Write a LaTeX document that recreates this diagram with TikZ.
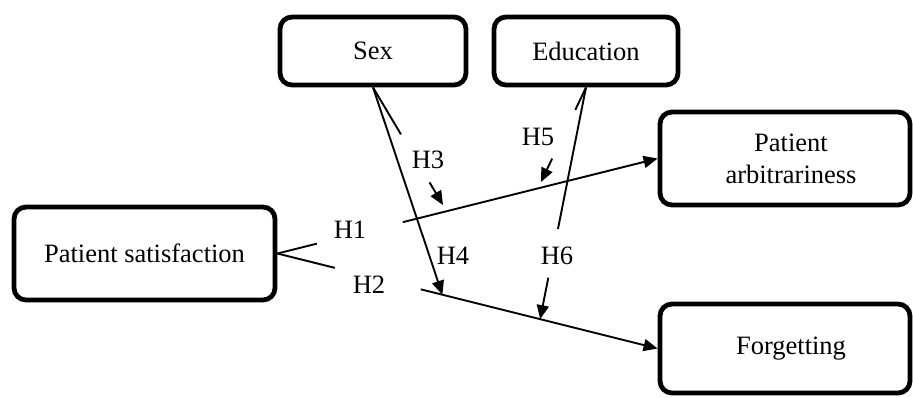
\documentclass[tikz,border=0pt]{standalone}
\usepackage{fontspec}
\setmainfont{Liberation Serif}
\usetikzlibrary{arrows.meta,calc}
\begin{document}
\begin{tikzpicture}[x=1pt,y=-1pt,
  txt/.style={font=\fontsize{26.5}{32}\selectfont},
  box/.style={txt, draw=black, line width=4.8pt, rounded corners=12pt, fill=white, inner sep=0pt, align=center},
  boxtext/.style={txt, align=center, inner sep=0pt},
  conn/.style={line width=1.9pt, draw=black},
  arr/.style={conn, -{Triangle[length=14pt,width=12pt]}},
  hlbl/.style={txt, inner sep=0pt}]
\useasboundingbox (0,0) rectangle (913,397);

% boxes
\node[box, minimum width=261pt, minimum height=93pt] (ps) at (144.5,253.5) {Patient satisfaction};
\node[box, minimum width=186pt, minimum height=68pt] (sex) at (373,51) {Sex};
\node[box, minimum width=184pt, minimum height=68pt] (edu) at (586,51) {Education};
\node[box, minimum width=250pt, minimum height=93pt,
      label={[boxtext,xshift=6pt]center:{Patient\\arbitrariness}}] (pa) at (785,158.5) {};
\node[box, minimum width=250pt, minimum height=89pt,
      label={[boxtext,xshift=6pt]center:{Forgetting}}] (fg) at (785,348.5) {};

% hypothesis labels
\node[hlbl] (lh1) at (350,230) {H1};
\node[hlbl] (lh2) at (369,285) {H2};
\node[hlbl] (lh3) at (428,160) {H3};
\node[hlbl] (lh4) at (453,256) {H4};
\node[hlbl] (lh5) at (538,137) {H5};
\node[hlbl] (lh6) at (557,256) {H6};

% gap points and targets
\coordinate (h1a) at ($(ps.east)!0.104!(pa.west)$);
\coordinate (h1b) at ($(ps.east)!0.33!(pa.west)$);
\coordinate (h2a) at ($(ps.east)!0.151!(fg.west)$);
\coordinate (h2b) at ($(ps.east)!0.377!(fg.west)$);
\coordinate (h4tip) at ($(ps.east)!0.434!(fg.west)$);
\coordinate (h6tip) at ($(ps.east)!0.691!(fg.west)$);
\coordinate (h3tip) at (443,205);
\coordinate (h5tip) at (541,182);
\coordinate (h3a) at ($(sex.south)!0.4!(h3tip)$);
\coordinate (h3b) at ($(sex.south)!0.808!(h3tip)$);
\coordinate (h5a) at ($(edu.south)!0.237!(h5tip)$);
\coordinate (h5b) at ($(edu.south)!0.753!(h5tip)$);
\coordinate (h6a) at ($(edu.south)!0.611!(h6tip)$);
\coordinate (h6b) at ($(edu.south)!0.821!(h6tip)$);

% H1, H2
\draw[conn] (ps.east) -- (h1a);
\draw[arr] (h1b) -- (pa.west);
\draw[conn] (ps.east) -- (h2a);
\draw[arr] (h2b) -- (fg.west);

% Sex moderation (H3, H4)
\draw[conn] (sex.south) -- (h3a);
\draw[arr] (h3b) -- (h3tip);
\draw[arr] (sex.south) -- (h4tip);

% Education moderation (H5, H6)
\draw[conn] (edu.south) -- (h5a);
\draw[arr] (h5b) -- (h5tip);
\draw[conn] (edu.south) -- (h6a);
\draw[arr] (h6b) -- (h6tip);
\end{tikzpicture}
\end{document}
